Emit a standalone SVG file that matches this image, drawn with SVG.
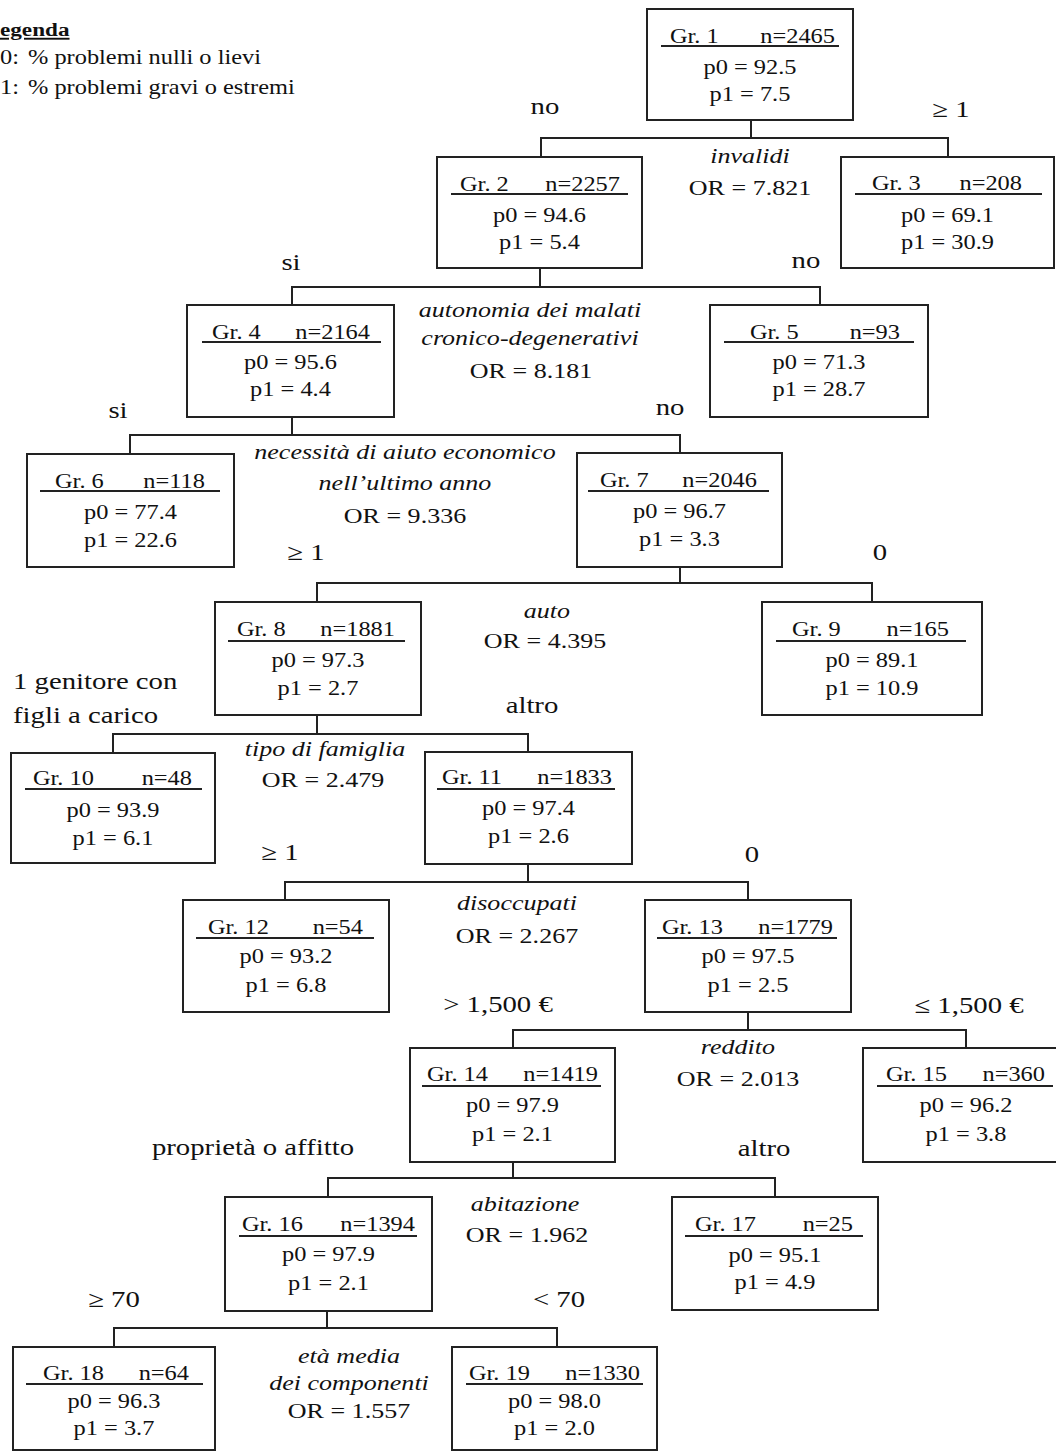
<svg xmlns="http://www.w3.org/2000/svg" width="1056" height="1454" viewBox="0 0 1056 1454">
<style>
text{font-family:"Liberation Serif","Times New Roman",serif;fill:#111;transform-box:fill-box;transform-origin:0 50%}
.m{text-anchor:middle;transform-origin:50% 50%}
.e{text-anchor:end;transform-origin:100% 50%}
.b{font-size:20px;transform:scale(1.22,1)}
.l{font-size:23px;transform:scale(1.25,1)}
.v{font-size:21px;transform:scale(1.24,1)}
.i{font-style:italic}
.lg{font-size:20px;transform:scale(1.22,1)}
.hd{font-size:19px;font-weight:bold;text-decoration:underline;transform:scale(1.22,1)}
rect.n{fill:#fff;stroke:#222;stroke-width:2}
line.u{stroke:#222;stroke-width:2}
#connectors path{fill:none;stroke:#222;stroke-width:2}
</style>
<rect width="1056" height="1454" fill="#fff"/>

<g id="legend">
<text class="hd" x="0" y="36">egenda</text>
<text class="lg" x="0" y="64">0:</text><text class="lg" x="28" y="64">% problemi nulli o lievi</text>
<text class="lg" x="0" y="94">1:</text><text class="lg" x="28" y="94">% problemi gravi o estremi</text>
</g>

<g id="connectors">
<path d="M751,120V138M541,138H948M541,137V157M948,137V157"/>
<path d="M540,268V287M292,287H820M292,286V305M820,286V305"/>
<path d="M292,417V435M130,435H680M130,434V454M680,434V453"/>
<path d="M680,567V583M317,583H872M317,582V602M872,582V602"/>
<path d="M317,715V734M113,734H528M113,733V753M528,733V752"/>
<path d="M528,864V882M285,882H748M285,881V900M748,881V900"/>
<path d="M748,1012V1030M513,1030H966M513,1029V1048M966,1029V1048"/>
<path d="M513,1162V1178M328,1178H775M328,1177V1197M775,1177V1197"/>
<path d="M327,1311V1328M114,1328H557M114,1327V1347M557,1327V1347"/>
</g>

<g id="labels">
<text class="l m" x="545" y="114">no</text>
<text class="l m" x="951" y="117">≥ 1</text>
<text class="v i m" x="750" y="163">invalidi</text>
<text class="v m" x="750" y="195">OR = 7.821</text>

<text class="l m" x="291" y="270">si</text>
<text class="l m" x="806" y="268">no</text>
<text class="v i m" x="530" y="317">autonomia dei malati</text>
<text class="v i m" x="530" y="345">cronico-degenerativi</text>
<text class="v m" x="531" y="378">OR = 8.181</text>

<text class="l m" x="118" y="418">si</text>
<text class="l m" x="670" y="415">no</text>
<text class="v i m" x="405" y="459">necessità di aiuto economico</text>
<text class="v i m" x="405" y="490">nell’ultimo anno</text>
<text class="v m" x="405" y="523">OR = 9.336</text>

<text class="l m" x="306" y="560">≥ 1</text>
<text class="l m" x="880" y="560">0</text>
<text class="v i m" x="547" y="618">auto</text>
<text class="v m" x="545" y="648">OR = 4.395</text>

<text class="l" x="13" y="689">1 genitore con</text>
<text class="l" x="13" y="723">figli a carico</text>
<text class="l m" x="532" y="713">altro</text>
<text class="v i m" x="325" y="756">tipo di famiglia</text>
<text class="v m" x="323" y="787">OR = 2.479</text>

<text class="l m" x="280" y="860">≥ 1</text>
<text class="l m" x="752" y="862">0</text>
<text class="v i m" x="517" y="910">disoccupati</text>
<text class="v m" x="517" y="943">OR = 2.267</text>

<text class="l m" x="498" y="1012">&gt; 1,500 €</text>
<text class="l m" x="969" y="1013">≤ 1,500 €</text>
<text class="v i m" x="738" y="1054">reddito</text>
<text class="v m" x="738" y="1086">OR = 2.013</text>

<text class="l m" x="253" y="1155">proprietà o affitto</text>
<text class="l m" x="764" y="1156">altro</text>
<text class="v i m" x="525" y="1211">abitazione</text>
<text class="v m" x="527" y="1242">OR = 1.962</text>

<text class="l m" x="114" y="1307">≥ 70</text>
<text class="l m" x="559" y="1307">&lt; 70</text>
<text class="v i m" x="349" y="1363">età media</text>
<text class="v i m" x="349" y="1390">dei componenti</text>
<text class="v m" x="349" y="1418">OR = 1.557</text>
</g>

<g id="gr1"><rect class="n" x="647" y="9" width="206" height="111"/><line class="u" x1="661" y1="46" x2="839" y2="46"/>
<text class="b" x="670" y="43">Gr. 1</text><text class="b e" x="835" y="43">n=2465</text><text class="b m" x="750" y="74">p0 = 92.5</text><text class="b m" x="750" y="101">p1 = 7.5</text></g>

<g id="gr2"><rect class="n" x="437" y="157" width="205" height="111"/><line class="u" x1="451" y1="194" x2="628" y2="194"/>
<text class="b" x="460" y="191">Gr. 2</text><text class="b e" x="620" y="191">n=2257</text><text class="b m" x="539.5" y="222">p0 = 94.6</text><text class="b m" x="539.5" y="249">p1 = 5.4</text></g>

<g id="gr3"><rect class="n" x="841" y="157" width="213" height="111"/><line class="u" x1="855" y1="194" x2="1042" y2="194"/>
<text class="b" x="872" y="190">Gr. 3</text><text class="b e" x="1022" y="190">n=208</text><text class="b m" x="947.5" y="222">p0 = 69.1</text><text class="b m" x="947.5" y="249">p1 = 30.9</text></g>

<g id="gr4"><rect class="n" x="187" y="305" width="207" height="112"/><line class="u" x1="202" y1="342" x2="381" y2="342"/>
<text class="b" x="212" y="339">Gr. 4</text><text class="b e" x="370" y="339">n=2164</text><text class="b m" x="290.5" y="369">p0 = 95.6</text><text class="b m" x="290.5" y="396">p1 = 4.4</text></g>

<g id="gr5"><rect class="n" x="710" y="305" width="218" height="112"/><line class="u" x1="724" y1="342" x2="914" y2="342"/>
<text class="b" x="750" y="339">Gr. 5</text><text class="b e" x="900" y="339">n=93</text><text class="b m" x="819" y="369">p0 = 71.3</text><text class="b m" x="819" y="396">p1 = 28.7</text></g>

<g id="gr6"><rect class="n" x="27" y="454" width="207" height="113"/><line class="u" x1="40" y1="491" x2="220" y2="491"/>
<text class="b" x="55" y="488">Gr. 6</text><text class="b e" x="205" y="488">n=118</text><text class="b m" x="130.5" y="519">p0 = 77.4</text><text class="b m" x="130.5" y="547">p1 = 22.6</text></g>

<g id="gr7"><rect class="n" x="577" y="453" width="205" height="114"/><line class="u" x1="588" y1="491" x2="769" y2="491"/>
<text class="b" x="600" y="487">Gr. 7</text><text class="b e" x="757" y="487">n=2046</text><text class="b m" x="679.5" y="518">p0 = 96.7</text><text class="b m" x="679.5" y="546">p1 = 3.3</text></g>

<g id="gr8"><rect class="n" x="215" y="602" width="206" height="113"/><line class="u" x1="228" y1="641" x2="405" y2="641"/>
<text class="b" x="237" y="636">Gr. 8</text><text class="b e" x="395" y="636">n=1881</text><text class="b m" x="318" y="667">p0 = 97.3</text><text class="b m" x="318" y="695">p1 = 2.7</text></g>

<g id="gr9"><rect class="n" x="762" y="602" width="220" height="113"/><line class="u" x1="776" y1="641" x2="966" y2="641"/>
<text class="b" x="792" y="636">Gr. 9</text><text class="b e" x="949" y="636">n=165</text><text class="b m" x="872" y="667">p0 = 89.1</text><text class="b m" x="872" y="695">p1 = 10.9</text></g>

<g id="gr10"><rect class="n" x="11" y="753" width="204" height="110"/><line class="u" x1="25" y1="789" x2="202" y2="789"/>
<text class="b" x="33" y="785">Gr. 10</text><text class="b e" x="192" y="785">n=48</text><text class="b m" x="113" y="817">p0 = 93.9</text><text class="b m" x="113" y="845">p1 = 6.1</text></g>

<g id="gr11"><rect class="n" x="425" y="752" width="207" height="112"/><line class="u" x1="437" y1="789" x2="615" y2="789"/>
<text class="b" x="442" y="784">Gr. 11</text><text class="b e" x="612" y="784">n=1833</text><text class="b m" x="528.5" y="815">p0 = 97.4</text><text class="b m" x="528.5" y="843">p1 = 2.6</text></g>

<g id="gr12"><rect class="n" x="183" y="900" width="206" height="112"/><line class="u" x1="196" y1="938" x2="374" y2="938"/>
<text class="b" x="208" y="934">Gr. 12</text><text class="b e" x="363" y="934">n=54</text><text class="b m" x="286" y="963">p0 = 93.2</text><text class="b m" x="286" y="992">p1 = 6.8</text></g>

<g id="gr13"><rect class="n" x="645" y="900" width="206" height="112"/><line class="u" x1="657" y1="938" x2="837" y2="938"/>
<text class="b" x="662" y="934">Gr. 13</text><text class="b e" x="833" y="934">n=1779</text><text class="b m" x="748" y="963">p0 = 97.5</text><text class="b m" x="748" y="992">p1 = 2.5</text></g>

<g id="gr14"><rect class="n" x="410" y="1048" width="205" height="114"/><line class="u" x1="422" y1="1086" x2="601" y2="1086"/>
<text class="b" x="427" y="1081">Gr. 14</text><text class="b e" x="598" y="1081">n=1419</text><text class="b m" x="512.5" y="1112">p0 = 97.9</text><text class="b m" x="512.5" y="1141">p1 = 2.1</text></g>

<g id="gr15"><rect class="n" x="863" y="1048" width="194" height="114"/><line class="u" x1="877" y1="1086" x2="1053" y2="1086"/>
<text class="b" x="886" y="1081">Gr. 15</text><text class="b e" x="1045" y="1081">n=360</text><text class="b m" x="966" y="1112">p0 = 96.2</text><text class="b m" x="966" y="1141">p1 = 3.8</text></g>

<g id="gr16"><rect class="n" x="225" y="1197" width="207" height="114"/><line class="u" x1="239" y1="1236" x2="417" y2="1236"/>
<text class="b" x="242" y="1231">Gr. 16</text><text class="b e" x="415" y="1231">n=1394</text><text class="b m" x="328.5" y="1261">p0 = 97.9</text><text class="b m" x="328.5" y="1290">p1 = 2.1</text></g>

<g id="gr17"><rect class="n" x="672" y="1197" width="206" height="113"/><line class="u" x1="685" y1="1236" x2="863" y2="1236"/>
<text class="b" x="695" y="1231">Gr. 17</text><text class="b e" x="853" y="1231">n=25</text><text class="b m" x="775" y="1262">p0 = 95.1</text><text class="b m" x="775" y="1289">p1 = 4.9</text></g>

<g id="gr18"><rect class="n" x="13" y="1347" width="202" height="103"/><line class="u" x1="26" y1="1384" x2="203" y2="1384"/>
<text class="b" x="43" y="1380">Gr. 18</text><text class="b e" x="189" y="1380">n=64</text><text class="b m" x="114" y="1408">p0 = 96.3</text><text class="b m" x="114" y="1435">p1 = 3.7</text></g>

<g id="gr19"><rect class="n" x="452" y="1347" width="205" height="103"/><line class="u" x1="466" y1="1384" x2="643" y2="1384"/>
<text class="b" x="469" y="1380">Gr. 19</text><text class="b e" x="640" y="1380">n=1330</text><text class="b m" x="554.5" y="1408">p0 = 98.0</text><text class="b m" x="554.5" y="1435">p1 = 2.0</text></g>
</svg>
